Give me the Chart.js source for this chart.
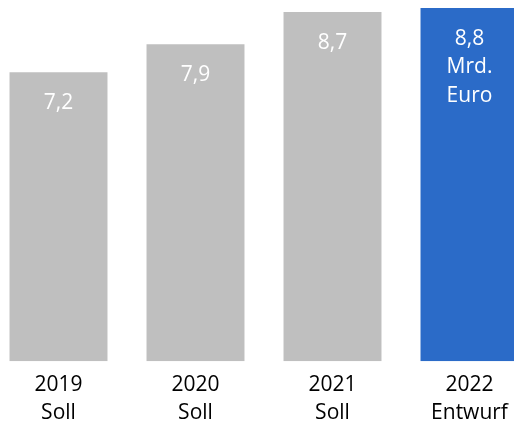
<!DOCTYPE html>
<html>
<head>
<meta charset="utf-8">
<script src="https://cdn.jsdelivr.net/npm/chart.js@4"></script>
<style>
  html, body { margin: 0; padding: 0; background: #fff; overflow: hidden; }
  #wrap { position: absolute; left: -10px; top: 0; width: 548px; height: 437px; }
</style>
</head>
<body>
<div id="wrap"><canvas id="budgetChart"></canvas></div>
<script>
// ---------------- DATA ----------------
const years = ["2019", "2020", "2021", "2022"];
const kinds = ["Soll", "Soll", "Soll", "Entwurf"];
const values = [7.2, 7.9, 8.7, 8.8];
const valueLabels = [["7,2"], ["7,9"], ["8,7"], ["8,8", "Mrd.", "Euro"]];
const barColors = ["#bfbfbf", "#bfbfbf", "#bfbfbf", "#2b6bc8"];

const FONT = "'Open Sans', sans-serif";

// white value text inside the top of each bar
const insideLabels = {
  id: "insideLabels",
  afterDatasetsDraw(chart) {
    const ctx = chart.ctx;
    const meta = chart.getDatasetMeta(0);
    ctx.save();
    ctx.fillStyle = "#ffffff";
    ctx.font = "21px " + FONT;
    ctx.textAlign = "center";
    ctx.textBaseline = "middle";
    meta.data.forEach((bar, i) => {
      valueLabels[i].forEach((line, j) => {
        ctx.fillText(line, bar.x, bar.y + 30.5 + j * 28.5);
      });
    });
    ctx.restore();
  }
};

document.addEventListener("DOMContentLoaded", () => {
  const ctx = document.getElementById("budgetChart").getContext("2d");
  new Chart(ctx, {
    type: "bar",
    data: {
      labels: years.map((y, i) => [y, kinds[i]]),
      datasets: [{
        data: values,
        backgroundColor: barColors,
        borderWidth: 0,
        categoryPercentage: 1,
        barPercentage: 0.715
      }]
    },
    options: {
      responsive: true,
      maintainAspectRatio: false,
      animation: false,
      layout: { padding: 0 },
      plugins: {
        legend: { display: false },
        tooltip: { enabled: false }
      },
      scales: {
        x: {
          grid: { display: false, drawTicks: false },
          border: { display: false },
          ticks: {
            color: "#000000",
            padding: 10,
            font: { family: FONT, size: 21, lineHeight: 1.33 }
          }
        },
        y: {
          display: false,
          min: 0,
          max: 9
        }
      }
    },
    plugins: [insideLabels]
  });
});
</script>
</body>
</html>
